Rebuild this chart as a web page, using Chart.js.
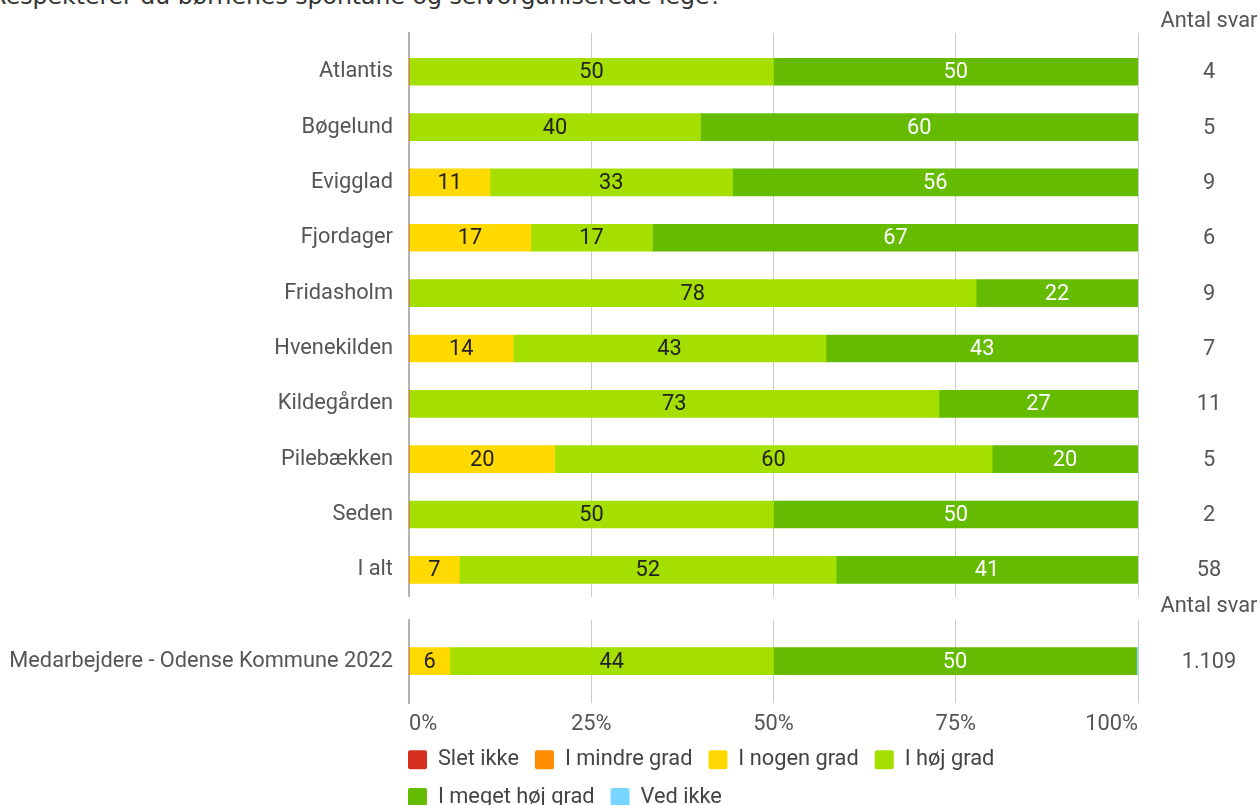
<!DOCTYPE html>
<html><head><meta charset="utf-8">
<script src="https://cdn.jsdelivr.net/npm/chart.js@4.4.0/dist/chart.umd.min.js"></script>
<style>
html,body{margin:0;padding:0;background:#fff;width:1260px;height:805px;overflow:hidden;position:relative}
#title{position:absolute;right:538px;top:-16px;white-space:nowrap;font-family:"DejaVu Sans";font-size:23.6px;line-height:24px;color:#333}
#c1{position:absolute;left:0;top:0}
#c2{position:absolute;left:0;top:590px}
</style></head><body>
<div id="title">Respekterer du børnenes spontane og selvorganiserede lege?</div>
<canvas id="c1" width="1260" height="626"></canvas>
<canvas id="c2" width="1260" height="246"></canvas>
<script>
// ---- data ----
const seriesNames = ['Slet ikke', 'I mindre grad', 'I nogen grad', 'I høj grad', 'I meget høj grad', 'Ved ikke'];
const categories = ['Atlantis', 'Bøgelund', 'Evigglad', 'Fjordager', 'Fridasholm', 'Hvenekilden', 'Kildegården', 'Pilebækken', 'Seden', 'I alt'];
const sletIkke       = [0, 0, 0, 0, 0, 0, 0, 0, 0, 0];
const iMindreGrad    = [0, 0, 0, 0, 0, 0, 0, 0, 0, 0];
const iNogenGrad     = [0, 0, 11.1, 16.7, 0, 14.3, 0, 20, 0, 6.9];
const iHoejGrad      = [50, 40, 33.3, 16.7, 77.8, 42.9, 72.7, 60, 50, 51.7];
const iMegetHoejGrad = [50, 60, 55.6, 66.7, 22.2, 42.9, 27.3, 20, 50, 41.4];
const vedIkke        = [0, 0, 0, 0, 0, 0, 0, 0, 0, 0];
const antalSvar      = ['4', '5', '9', '6', '9', '7', '11', '5', '2', '58'];

const compCategories     = ['Medarbejdere - Odense Kommune 2022'];
const compSletIkke       = [0];
const compIMindreGrad    = [0];
const compINogenGrad     = [5.6];
const compIHoejGrad      = [44.4];
const compIMegetHoejGrad = [49.8];
const compVedIkke        = [0.2];
const compAntalSvar      = ['1.109'];

const countHeader = 'Antal svar';
const xTickValues = [0, 25, 50, 75, 100];

// ---- styling ----
const FS = 21.8;
const seriesColors = ['#D5301F', '#FF8C00', '#FFD900', '#A5DF00', '#65BB00', '#76D6FF'];
const labelColors  = ['#fff', '#222', '#222', '#222', '#fff', '#222'];
Chart.defaults.font.family = 'Roboto';
Chart.defaults.font.size = FS;
Chart.defaults.color = '#555';

const barValueLabels = {
  id: 'barValueLabels',
  afterDatasetsDraw(chart) {
    const ctx = chart.ctx;
    ctx.save();
    ctx.font = FS + 'px Roboto';
    ctx.textAlign = 'center';
    ctx.textBaseline = 'middle';
    chart.data.datasets.forEach((ds, di) => {
      const meta = chart.getDatasetMeta(di);
      meta.data.forEach((el, i) => {
        const v = ds.data[i].x;
        if (!v || v < 2) return;
        const p = el.getProps(['x', 'y', 'base'], true);
        ctx.fillStyle = labelColors[di];
        ctx.fillText(String(Math.round(v)), (p.x + p.base) / 2, p.y + 1);
      });
    });
    ctx.restore();
  }
};

const countColumn = {
  id: 'countColumn',
  afterDraw(chart, args, opts) {
    if (!opts || !opts.counts) return;
    const ctx = chart.ctx, ys = chart.scales.y, area = chart.chartArea;
    ctx.save();
    ctx.font = FS + 'px Roboto';
    ctx.fillStyle = '#555';
    ctx.textAlign = 'center';
    ctx.textBaseline = 'middle';
    ctx.fillText(opts.header, opts.x, area.top - opts.headerGap);
    opts.counts.forEach((c, i) => ctx.fillText(c, opts.x, ys.getPixelForValue(i) + 1));
    ctx.restore();
  }
};

const legendShift = {
  id: 'legendShift',
  afterLayout(chart, args, opts) {
    const lg = chart.legend;
    if (lg && lg.options.display) {
      const p = lg.options.labels.padding;
      lg.left -= p + 1;
      lg.right -= p + 1;
      lg.top -= opts.up || 0;
      lg.bottom -= opts.up || 0;
    }
  }
};

function buildDatasets(seriesArrays) {
  return seriesArrays.map((arr, si) => ({
    label: seriesNames[si],
    data: arr.map((v, i) => ({ x: v, y: i })),
    backgroundColor: seriesColors[si],
    borderWidth: 0,
    barThickness: 27
  }));
}

function makeChart(id, cats, seriesArrays, counts, cfg) {
  return new Chart(document.getElementById(id), {
    type: 'bar',
    data: { datasets: buildDatasets(seriesArrays) },
    plugins: [barValueLabels, countColumn, legendShift],
    options: {
      responsive: false,
      animation: false,
      indexAxis: 'y',
      layout: { padding: cfg.padding },
      scales: {
        x: {
          stacked: true, min: 0, max: 100,
          afterBuildTicks: s => { s.ticks = xTickValues.map(v => ({ value: v })); },
          grid: { color: '#cccccc', drawTicks: false, lineWidth: 1 },
          border: { display: false },
          ticks: {
            display: cfg.showX, align: 'inner', padding: 8, color: '#555',
            callback: v => v + '%'
          }
        },
        y: {
          type: 'linear', stacked: true, reverse: true, offset: false, bounds: 'data',
          min: cfg.yMin, max: cfg.yMax,
          afterBuildTicks: s => { s.ticks = cats.map((c, i) => ({ value: i })); },
          afterFit: s => { s.width = 409; },
          grid: { display: false, drawTicks: false, offset: false },
          border: { display: true, color: '#b4b4b4', width: 2 },
          ticks: { padding: 16, color: '#555', callback: v => cats[v] }
        }
      },
      plugins: {
        legend: {
          display: cfg.legend, position: 'bottom', align: 'start', fullSize: false, maxWidth: 640,
          labels: { boxWidth: 19, boxHeight: 19, padding: 16, color: '#444', useBorderRadius: true, borderRadius: 2, font: { size: FS } }
        },
        tooltip: { enabled: false },
        title: { display: false },
        legendShift: { up: cfg.legendUp || 0 },
        countColumn: { counts: counts, header: countHeader, x: 1209, headerGap: cfg.headerGap }
      }
    }
  });
}

makeChart('c1', categories,
  [sletIkke, iMindreGrad, iNogenGrad, iHoejGrad, iMegetHoejGrad, vedIkke], antalSvar,
  { padding: { top: 33, right: 122, bottom: 0, left: 0 }, yMin: -0.70, yMax: 9.489, showX: false, legend: false, headerGap: 11 });

makeChart('c2', compCategories,
  [compSletIkke, compIMindreGrad, compINogenGrad, compIHoejGrad, compIMegetHoejGrad, compVedIkke], compAntalSvar,
  { padding: { top: 30, right: 122, bottom: 4.9, left: 0 }, yMin: -0.725, yMax: 0.743, showX: true, legend: true, legendUp: 12.7, headerGap: 13 });
</script>
</body></html>
